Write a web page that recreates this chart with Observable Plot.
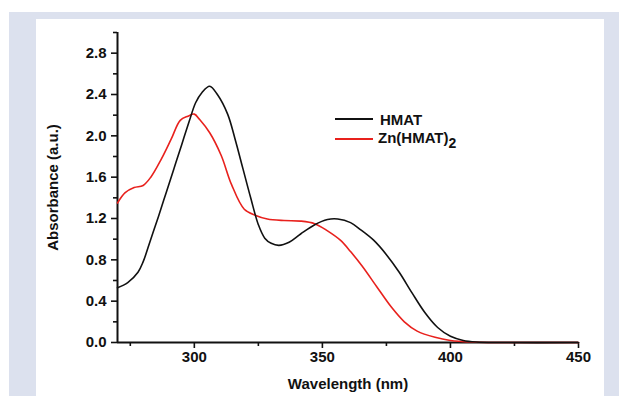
<!DOCTYPE html>
<html>
<head>
<meta charset="utf-8">
<script src="https://cdn.jsdelivr.net/npm/d3@7"></script>
<script src="https://cdn.jsdelivr.net/npm/@observablehq/plot@0.6"></script>
<style>
  html, body { margin: 0; padding: 0; background: #ffffff; }
  #wrap { position: relative; width: 619px; height: 396px; overflow: hidden; }
  #outer { position: absolute; left: 9px; top: 12px; width: 610px; height: 384px; background: #dce1ee; }
  #inner { position: absolute; left: 36px; top: 19px; width: 568px; height: 377px; background: #ffffff; }
  #chart { position: absolute; left: 0; top: 0; }
  .leg { position: absolute; font-family: "Liberation Sans", Arial, sans-serif; font-weight: bold; font-size: 15px; color: #111; line-height: 1; white-space: nowrap; }
  .legline { position: absolute; height: 0; border-top: 2px solid; }
</style>
</head>
<body>
<div id="wrap">
  <div id="outer"></div>
  <div id="inner"></div>
  <div id="chart"></div>
  <div class="legline" style="left:335px; top:118px; width:38px; border-color:#111;"></div>
  <div class="leg" style="left:380px; top:112px;">HMAT</div>
  <div class="legline" style="left:335px; top:138px; width:38px; border-color:#e8211d;"></div>
  <div class="leg" style="left:378px; top:130px;">Zn(HMAT)<span style="font-size:14px; position:relative; top:5px;">2</span></div>
</div>
<script>
// Wavelength (nm) and absorbance (a.u.)
const hmatWavelength = [270, 274, 278, 280, 283, 286, 289, 292, 295, 298, 300.5, 303, 306, 309, 313, 316, 319, 322, 325, 327.5, 330, 333, 337, 341.5, 347, 352, 356, 361, 365, 370, 375, 380, 385, 390, 395, 400, 405, 410, 420, 450];
const hmatAbsorbance = [0.53, 0.58, 0.68, 0.78, 1.00, 1.22, 1.45, 1.68, 1.91, 2.14, 2.32, 2.42, 2.48, 2.40, 2.21, 1.96, 1.68, 1.40, 1.14, 1.01, 0.96, 0.94, 0.97, 1.05, 1.14, 1.19, 1.195, 1.16, 1.09, 0.99, 0.85, 0.68, 0.48, 0.29, 0.145, 0.06, 0.02, 0.005, 0, 0];

const znWavelength = [270, 273, 276.5, 280, 283, 287, 291, 294.5, 297.5, 300, 302, 306, 310.5, 314.5, 319.5, 324, 328.5, 335, 341.5, 347, 352, 357, 361, 365.5, 371.5, 377, 382, 387, 394, 400, 408, 420, 450];
const znAbsorbance = [1.35, 1.45, 1.50, 1.52, 1.60, 1.77, 1.97, 2.15, 2.19, 2.21, 2.16, 2.03, 1.81, 1.53, 1.29, 1.23, 1.195, 1.18, 1.175, 1.15, 1.08, 0.99, 0.88, 0.74, 0.53, 0.34, 0.20, 0.11, 0.05, 0.02, 0.005, 0, 0];

const xMajorTicks = [300, 350, 400, 450];
const xMinorTicks = [275, 325, 375, 425];
const yMajorTicks = [0, 0.4, 0.8, 1.2, 1.6, 2.0, 2.4, 2.8];
const yMinorTicks = [0.2, 0.6, 1.0, 1.4, 1.8, 2.2, 2.6, 3.0];

const hmatRows = hmatWavelength.map((w, i) => ({wl: w, a: hmatAbsorbance[i]}));
const znRows = znWavelength.map((w, i) => ({wl: w, a: znAbsorbance[i]}));

const chart = Plot.plot({
  width: 619,
  height: 396,
  marginLeft: 117,
  marginRight: 41,
  marginTop: 32,
  marginBottom: 54,
  style: {background: "transparent", fontFamily: "'Liberation Sans', Arial, sans-serif", fontWeight: "bold", fontSize: "15px", color: "#111", overflow: "visible"},
  x: {domain: [270, 450]},
  y: {domain: [0, 3.0]},
  marks: [
    Plot.axisX({ticks: xMajorTicks, tickSize: 6, tickPadding: 3, strokeWidth: 1.6, tickFormat: d => String(d), label: "Wavelength (nm)", labelAnchor: "center", labelArrow: "none", labelOffset: 46}),
    Plot.axisX({ticks: xMinorTicks, tickSize: 4, strokeWidth: 1.6, tickFormat: () => "", label: null}),
    Plot.axisY({ticks: yMajorTicks, tickSize: 6, tickPadding: 5, strokeWidth: 1.6, tickFormat: d => d.toFixed(1), label: "Absorbance (a.u.)", labelAnchor: "center", labelArrow: "none", labelOffset: 70}),
    Plot.axisY({ticks: yMinorTicks, tickSize: 4, strokeWidth: 1.6, tickFormat: () => "", label: null}),
    Plot.ruleY([0], {stroke: "#111", strokeWidth: 2}),
    Plot.ruleX([270], {stroke: "#111", strokeWidth: 2}),
    Plot.line(znRows, {x: "wl", y: "a", stroke: "#e8211d", strokeWidth: 1.6, curve: "catmull-rom"}),
    Plot.line(hmatRows, {x: "wl", y: "a", stroke: "#111", strokeWidth: 1.6, curve: "catmull-rom"})
  ]
});
document.getElementById("chart").appendChild(chart);
</script>
</body>
</html>
